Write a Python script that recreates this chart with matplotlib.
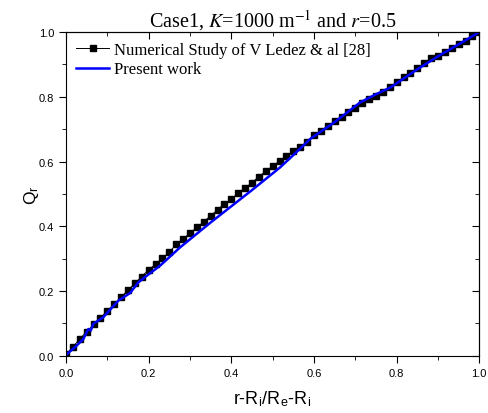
import matplotlib
matplotlib.use("Agg")
import matplotlib.pyplot as plt
from matplotlib.ticker import MultipleLocator, FormatStrFormatter

plt.rcParams['mathtext.fontset'] = 'stix'

# Numerical study (black squares)
x_ref = [0.000, 0.017, 0.033, 0.050, 0.067, 0.083, 0.100, 0.117, 0.133, 0.150,
         0.167, 0.183, 0.200, 0.217, 0.233, 0.250, 0.267, 0.283, 0.300, 0.317,
         0.333, 0.350, 0.367, 0.383, 0.400, 0.417, 0.433, 0.450, 0.467, 0.483,
         0.500, 0.517, 0.533, 0.550, 0.567, 0.583, 0.600, 0.617, 0.633, 0.650,
         0.667, 0.683, 0.700, 0.717, 0.733, 0.750, 0.767, 0.783, 0.800, 0.817,
         0.833, 0.850, 0.867, 0.883, 0.900, 0.917, 0.933, 0.950, 0.967, 0.983,
         1.000]
q_ref = [0.005, 0.028, 0.052, 0.075, 0.097, 0.116, 0.140, 0.159, 0.181, 0.203,
         0.224, 0.245, 0.266, 0.283, 0.302, 0.320, 0.345, 0.361, 0.379, 0.397,
         0.414, 0.433, 0.451, 0.470, 0.483, 0.504, 0.518, 0.535, 0.554, 0.570,
         0.586, 0.602, 0.616, 0.634, 0.645, 0.661, 0.682, 0.696, 0.710, 0.724,
         0.738, 0.752, 0.767, 0.781, 0.793, 0.804, 0.815, 0.829, 0.846, 0.860,
         0.874, 0.889, 0.904, 0.919, 0.927, 0.939, 0.950, 0.962, 0.974, 0.987,
         1.000]

# Present work (blue line)
x_pw = [0.000, 0.022, 0.042, 0.054, 0.060, 0.066, 0.090, 0.127, 0.155, 0.175,
        0.191, 0.228, 0.276, 0.300, 0.350, 0.400, 0.450, 0.518, 0.550, 0.591,
        0.650, 0.712, 0.750, 0.785, 0.850, 0.900, 0.950, 1.000]
q_pw = [0.003, 0.027, 0.052, 0.083, 0.078, 0.099, 0.119, 0.171, 0.194, 0.227,
        0.243, 0.279, 0.335, 0.360, 0.412, 0.462, 0.512, 0.582, 0.620, 0.670,
        0.722, 0.783, 0.808, 0.829, 0.885, 0.925, 0.962, 1.000]

fig = plt.figure(figsize=(4.89, 4.14), dpi=100)
ax = fig.add_axes([0.135, 0.138, 0.845, 0.782])

ax.plot(x_ref, q_ref, color='black', linewidth=0.7, marker='s', markersize=4.5,
        label='Numerical Study of V Ledez & al [28]')
ax.plot(x_pw, q_pw, color='blue', linewidth=1.8, label='Present work')

ax.set_xlim(0, 1)
ax.set_ylim(0, 1)
for axis in (ax.xaxis, ax.yaxis):
    axis.set_major_locator(MultipleLocator(0.2))
    axis.set_minor_locator(MultipleLocator(0.1))
    axis.set_major_formatter(FormatStrFormatter('%.1f'))
ax.tick_params(which='major', direction='out', length=5, labelsize=8)
ax.tick_params(which='minor', direction='out', length=3)
for tl in ax.get_xticklabels() + ax.get_yticklabels():
    tl.set_fontfamily('Liberation Sans')

# inward ticks on top and right
top = ax.secondary_xaxis('top')
right = ax.secondary_yaxis('right')
for sec, axis in ((top, top.xaxis), (right, right.yaxis)):
    axis.set_major_locator(MultipleLocator(0.2))
    axis.set_minor_locator(MultipleLocator(0.1))
    sec.tick_params(which='major', direction='in', length=5, labelleft=False,
                    labelright=False, labeltop=False, labelbottom=False)
    sec.tick_params(which='minor', direction='in', length=3)

ax.set_title(r'Case1, $K$=1000 m$^{-1}$ and $r$=0.5', fontsize=14.5,
             fontfamily='Liberation Serif', pad=3)
ax.set_xlabel(r'r-R$_\mathregular{i}$/R$_\mathregular{e}$-R$_\mathregular{i}$',
              fontsize=13, fontfamily='Liberation Sans', labelpad=8)
ax.set_ylabel(r'Q$_\mathregular{r}$', fontsize=12.5, fontfamily='Liberation Sans')
ax.yaxis.set_label_coords(-0.06, 0.5)

ax.legend(loc='upper left', frameon=False, handlelength=2.0,
          prop={'family': 'Liberation Serif', 'size': 12},
          borderaxespad=0.2, labelspacing=0.2, handletextpad=0.3)

fig.savefig('out.png', dpi=100)
